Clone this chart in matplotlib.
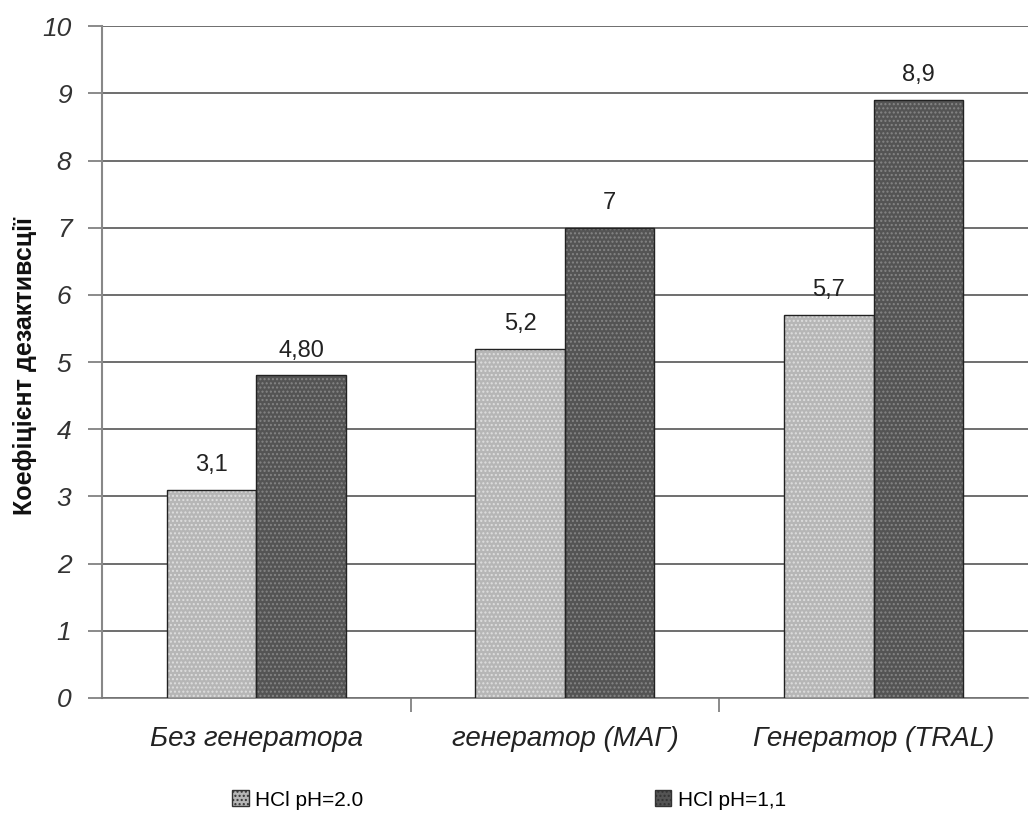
import matplotlib
matplotlib.use("Agg")
import matplotlib.pyplot as plt
import matplotlib.patches as mpatches
import numpy as np

# data
categories  = ["Без генератора", "генератор (МАГ)", "Генератор (TRAL)"]
ph20_values = [3.1, 5.2, 5.7]
ph11_values = [4.8, 7.0, 8.9]
ph20_labels = ["3,1", "5,2", "5,7"]
ph11_labels = ["4,80", "7", "8,9"]
series_names = ["HCl pH=2.0", "HCl pH=1,1"]

plt.rcParams['font.family'] = ['Liberation Sans', 'DejaVu Sans']

lightColor = "#b6b6b6"
darkColor  = "#545454"
w = 0.29  # bar width

fig = plt.figure(figsize=(10.30, 8.21), dpi=100)
ax = fig.add_axes([0.099, 0.150, 0.899, 0.818])

x = np.arange(len(categories))

# fill with dotted hatch, then black outline on top
ax.bar(x - w/2, ph20_values, w, color=lightColor, edgecolor="#dedede", hatch="....", linewidth=0, zorder=3)
ax.bar(x + w/2, ph11_values, w, color=darkColor, edgecolor="#858585", hatch="....", linewidth=0, zorder=3)
b1 = ax.bar(x - w/2, ph20_values, w, fill=False, edgecolor="#222222", linewidth=1.0, zorder=4)
b2 = ax.bar(x + w/2, ph11_values, w, fill=False, edgecolor="#222222", linewidth=1.0, zorder=4)
ax.bar_label(b1, labels=ph20_labels, padding=10, fontsize=17, color="#222222")
ax.bar_label(b2, labels=ph11_labels, padding=10, fontsize=17, color="#222222")

ax.set_ylim(0, 10)
ax.set_xlim(-0.5, 2.5)
ax.set_yticks(range(0, 11))
ax.set_yticklabels([str(i) for i in range(0, 11)], fontsize=19, style="italic", color="#333333")
ax.yaxis.grid(True, color="#555555", linewidth=1.2, zorder=0)
ax.set_axisbelow(True)

# category labels centred, tick marks between categories
ax.set_xticks(x)
ax.set_xticklabels(categories, fontsize=20, style="italic", color="#222222")
ax.tick_params(axis="x", length=0, pad=20)
ax.set_xticks([0.5, 1.5], minor=True)
ax.tick_params(axis="x", which="minor", length=10, color="#777777", width=1.2)
ax.tick_params(axis="y", length=10, color="#777777", width=1.2, pad=12)

for s in ["top", "right"]:
    ax.spines[s].set_visible(False)
ax.spines["left"].set_color("#888888")
ax.spines["left"].set_linewidth(1.5)
ax.spines["bottom"].set_color("#777777")
ax.spines["bottom"].set_linewidth(1.2)

fig.text(0.024, 1 - 366/821, "Коефіцієнт дезактивсції", rotation=90, ha="center", va="center",
         fontsize=18, fontweight="bold", color="#111111")

# legend at the bottom with small patterned squares
h1 = mpatches.Patch(facecolor=lightColor, edgecolor="#333333", hatch="....")
h2 = mpatches.Patch(facecolor=darkColor, edgecolor="#333333", hatch="....")
fig.legend([h1, h2], series_names, loc="center left", bbox_to_anchor=(0.207, 1 - 800/821), ncol=2,
           frameon=False, fontsize=15, handlelength=0.8, handleheight=0.8, handletextpad=0.3,
           columnspacing=14.0)

fig.savefig("out.png", dpi=100)
